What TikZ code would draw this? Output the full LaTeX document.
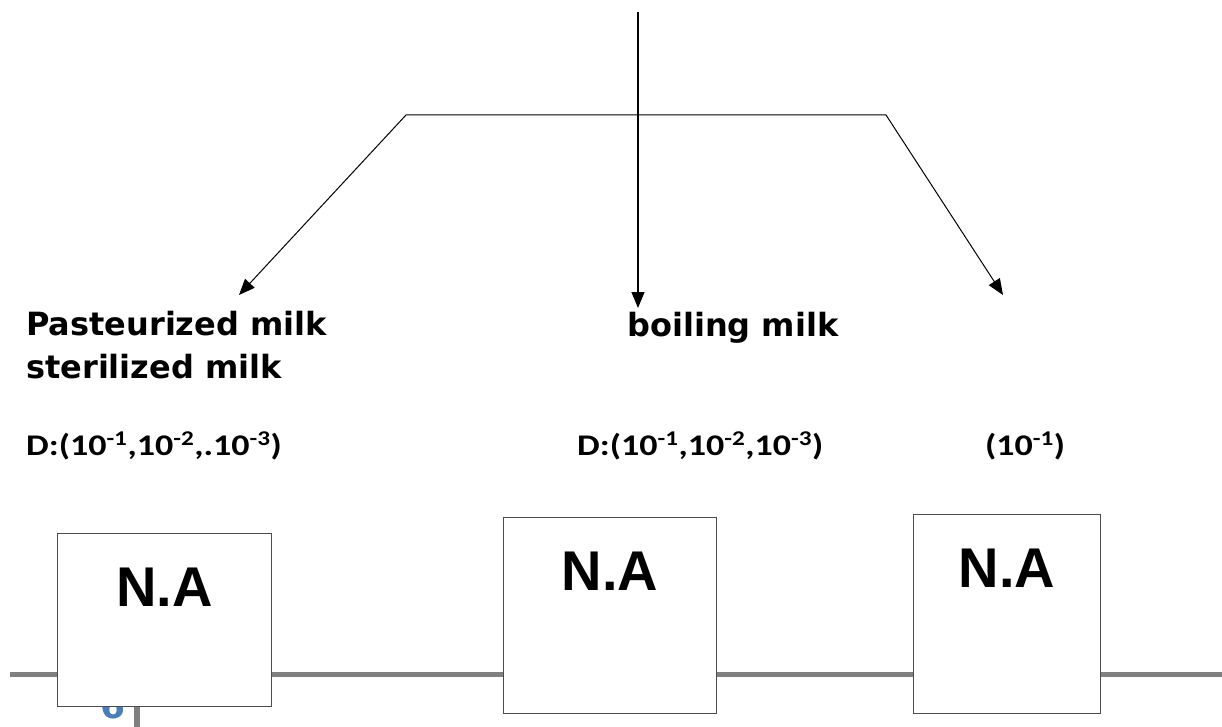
\documentclass[tikz,border=0pt]{standalone}
\usepackage{fontspec}
\setmainfont{DejaVu Sans}
\newfontfamily\dosefont[FakeStretch=1.2]{Carlito}
\newfontfamily\boxfont{Liberation Sans}
\usetikzlibrary{arrows.meta,positioning}
\definecolor{sixblue}{HTML}{4A7EBB}

\tikzset{
  milk/.style={font=\fontsize{32}{40}\selectfont\bfseries, inner sep=0pt, anchor=base west},
  dose/.style={font=\dosefont\fontsize{30}{36}\selectfont\bfseries, inner sep=0pt, anchor=base west},
  testbox/.style={draw=black!70, fill=white, line width=1pt, inner sep=0pt, anchor=north west},
  na/.style={font=\boxfont\fontsize{56}{60}\selectfont\bfseries, inner sep=0pt, anchor=base},
  head/.tip={Triangle[length=16pt,width=13pt]},
}

\begin{document}
\begin{tikzpicture}[x=1pt,y=-1pt]
      \useasboundingbox (0,0) rectangle (1222,727);

      % bar behind the boxes
      \draw[line width=5pt, black!50] (10,674) -- (1222,674);
      \node[font=\fontsize{36}{40}\selectfont\bfseries, text=sixblue, inner sep=0pt, anchor=base west] (pagenum) at (100,718) {6};
      \draw[line width=6pt, black!50] (137,690) -- (137,727);

      \coordinate (src) at (638,12);
      \coordinate (tipmid) at (638,308);
      \coordinate (splitL) at (406,115);
      \coordinate (splitR) at (886,115);
      \coordinate (tipL) at (239,295);
      \coordinate (tipR) at (1003,295);

      \draw[line width=1pt, head-head] (tipL) -- (splitL) -- (splitR) -- (tipR);
      \draw[line width=1.2pt, -head] (src) -- (tipmid);

      \node[milk] (past) at (26,335) {Pasteurized milk};
      \node[milk] (steril) at (26,378) {sterilized milk};
      \node[milk] (boil) at (627,336) {boiling milk};

      \node[dose] (dleft) at (26,455) {D:(10\textsuperscript{-1},10\textsuperscript{-2},.10\textsuperscript{-3})};
      \node[dose] (dmid) at (577,455) {D:(10\textsuperscript{-1},10\textsuperscript{-2},10\textsuperscript{-3})};
      \node[dose] (dright) at (985,455) {(10\textsuperscript{-1})};

      \node[testbox, minimum width=214pt, minimum height=173pt] (box1) at (57,533) {};
      \node[testbox, minimum width=213pt, minimum height=196pt] (box2) at (503,517) {};
      \node[testbox, minimum width=187pt, minimum height=199pt] (box3) at (913,514) {};

      \node[na] (na1) at ([yshift=-73pt]box1.north) {N.A};
      \node[na] (na2) at ([yshift=-73pt]box2.north) {N.A};
      \node[na] (na3) at ([yshift=-73pt]box3.north) {N.A};

\end{tikzpicture}
\end{document}
